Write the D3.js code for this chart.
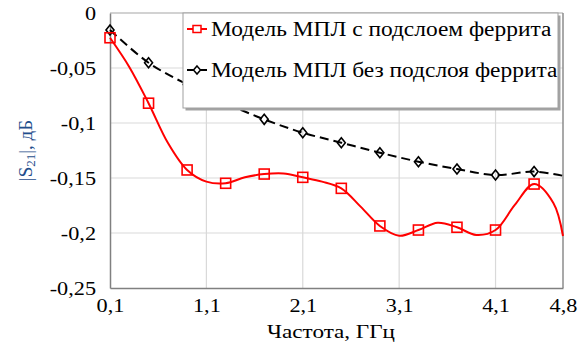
<!DOCTYPE html>
<html>
<head>
<meta charset="utf-8">
<script src="https://cdn.jsdelivr.net/npm/d3@7"></script>
<style>
  html, body { margin: 0; padding: 0; background: #fff; }
  svg { display: block; }
  text { font-family: "Liberation Serif", "Times New Roman", serif; fill: #000; }
</style>
</head>
<body>
<svg id="chart" width="587" height="347"></svg>
<script>
// S21 magnitude vs frequency, microstrip line with and without a ferrite sublayer
const freqFerrite = [0.1, 0.3, 0.5, 0.7, 0.9, 1.1, 1.3, 1.5, 1.7, 1.9, 2.1, 2.3, 2.5, 2.7, 2.9, 3.1, 3.3, 3.5, 3.7, 3.9, 4.1, 4.3, 4.5, 4.7, 4.8];
const s21Ferrite = [-0.0225, -0.049, -0.082, -0.118, -0.1427, -0.1533, -0.1548, -0.1494, -0.1464, -0.1458, -0.1494, -0.1533, -0.1594, -0.176, -0.1936, -0.2025, -0.1973, -0.1906, -0.1948, -0.2018, -0.1973, -0.1745, -0.1555, -0.1727, -0.2027];
const markerFerrite = [true, false, true, false, true, false, true, false, true, false, true, false, true, false, true, false, true, false, true, false, true, false, true, false, false];

const freqPlain = [0.1, 0.5, 0.9, 1.3, 1.7, 2.1, 2.5, 2.9, 3.3, 3.7, 4.1, 4.5, 4.8];
const s21Plain = [-0.0155, -0.0452, -0.065, -0.082, -0.0967, -0.1088, -0.1179, -0.127, -0.1352, -0.1418, -0.1473, -0.1442, -0.148];
const markerPlain = [true, true, true, true, true, true, true, true, true, true, true, true, false];

const xTicks = [0.1, 1.1, 2.1, 3.1, 4.1, 4.8];
const yTicks = [0, -0.05, -0.1, -0.15, -0.2, -0.25];
const seriesNames = ["Модель МПЛ с подслоем феррита", "Модель МПЛ без подслоя феррита"];

const svg = d3.select("#chart");
const plotL = 110, plotR = 563, plotT = 13, plotB = 288;
const widen = 1.17; // horizontal stretch applied to the serif labels

const x = d3.scaleLinear().domain([0.1, 4.8]).range([plotL, plotR]);
const y = d3.scaleLinear().domain([-0.25, 0]).range([plotB, plotT]);
const fmt = v => (v === 0 ? "0" : String(Math.round(v * 100) / 100).replace(".", ","));

// grid
const grid = svg.append("g");
grid.selectAll("line.h").data(yTicks.filter(t => t > -0.25 && t < 0)).join("line")
  .attr("x1", plotL).attr("x2", plotR)
  .attr("y1", d => y(d)).attr("y2", d => y(d))
  .attr("stroke", "#d9d9d9").attr("stroke-width", 1.2);
grid.selectAll("line.v").data(xTicks.filter(t => t > 0.1 && t < 4.8)).join("line")
  .attr("y1", plotT).attr("y2", plotB)
  .attr("x1", d => x(d)).attr("x2", d => x(d))
  .attr("stroke", "#d9d9d9").attr("stroke-width", 1.2);

// frame
svg.append("line").attr("x1", plotL).attr("x2", plotR).attr("y1", plotT).attr("y2", plotT)
  .attr("stroke", "#a6a6a6").attr("stroke-width", 1.2);
svg.append("line").attr("x1", plotR).attr("x2", plotR).attr("y1", plotT).attr("y2", plotB)
  .attr("stroke", "#8c8c8c").attr("stroke-width", 1.5);

// axes
const yAxis = svg.append("g").attr("transform", `translate(${plotL},0)`)
  .call(d3.axisLeft(y).tickValues(yTicks).tickFormat(fmt).tickSize(0).tickPadding(14));
const xAxis = svg.append("g").attr("transform", `translate(0,${plotB})`)
  .call(d3.axisBottom(x).tickValues(xTicks).tickFormat(fmt).tickSize(0).tickPadding(11));
[yAxis, xAxis].forEach(g => {
  g.select(".domain").attr("stroke", "#808080").attr("stroke-width", 1.5);
  g.selectAll("text").attr("font-family", "Liberation Serif").attr("font-size", 19)
    .attr("fill", "#000").classed("wide", true);
});

// axis titles
svg.append("text").attr("x", 331).attr("y", 338).attr("text-anchor", "middle")
  .attr("font-size", 19).attr("textLength", 128).attr("lengthAdjust", "spacingAndGlyphs")
  .text("Частота, ГГц");
const yt = svg.append("text").attr("transform", `translate(32,${(plotT + plotB) / 2}) rotate(-90)`)
  .attr("text-anchor", "middle").attr("font-size", 19).style("fill", "#1f4e8c");
yt.append("tspan").text("|S");
yt.append("tspan").attr("font-size", 13).attr("dy", 3).text("21");
yt.append("tspan").attr("dy", -3).text("|, дБ");

// series
const curve = d3.curveCatmullRom.alpha(0.5);
const line = d3.line().x(d => x(d.f)).y(d => y(d.v)).curve(curve);

const ferrite = freqFerrite.map((f, i) => ({ f, v: s21Ferrite[i], m: markerFerrite[i] }));
const plain = freqPlain.map((f, i) => ({ f, v: s21Plain[i], m: markerPlain[i] }));

const sq = 10, dm = 5;
const diamondPath = (cx, cy) => `M${cx},${cy - dm}L${cx + dm * 0.8},${cy}L${cx},${cy + dm}L${cx - dm * 0.8},${cy}Z`;

svg.append("path").datum(plain).attr("d", line)
  .attr("fill", "none").attr("stroke", "#000").attr("stroke-width", 2)
  .attr("stroke-dasharray", "9,5");
svg.append("g").selectAll("path").data(plain.filter(d => d.m)).join("path")
  .attr("d", d => diamondPath(x(d.f), y(d.v)))
  .attr("fill", "none").attr("stroke", "#000").attr("stroke-width", 1.6);

svg.append("path").datum(ferrite).attr("d", line)
  .attr("fill", "none").attr("stroke", "#ff0000").attr("stroke-width", 2);
svg.append("g").selectAll("rect").data(ferrite.filter(d => d.m)).join("rect")
  .attr("x", d => x(d.f) - sq / 2).attr("y", d => y(d.v) - sq / 2)
  .attr("width", sq).attr("height", sq)
  .attr("fill", "none").attr("stroke", "#ff0000").attr("stroke-width", 1.6);

// legend
const lg = { x0: 183, y0: 13, x1: 558, y1: 108 };
svg.append("rect").attr("x", lg.x0 + 2.5).attr("y", lg.y0 + 2.5)
  .attr("width", lg.x1 - lg.x0).attr("height", lg.y1 - lg.y0).attr("fill", "#a3a3a3");
svg.append("rect").attr("x", lg.x0).attr("y", lg.y0)
  .attr("width", lg.x1 - lg.x0).attr("height", lg.y1 - lg.y0)
  .attr("fill", "#fff").attr("stroke", "#a0a0a0").attr("stroke-width", 1);

const rows = [
  { name: seriesNames[0], color: "#ff0000", cy: 29, kind: "square" },
  { name: seriesNames[1], color: "#000", cy: 70, kind: "diamond" }
];
rows.forEach(r => {
  svg.append("line").attr("x1", 187).attr("x2", 207).attr("y1", r.cy).attr("y2", r.cy)
    .attr("stroke", r.color).attr("stroke-width", 2);
  if (r.kind === "square") {
    svg.append("rect").attr("x", 193).attr("y", r.cy - 3.5).attr("width", 8).attr("height", 7)
      .attr("fill", "#fff").attr("stroke", r.color).attr("stroke-width", 1.5);
  } else {
    svg.append("path").attr("d", `M197,${r.cy - 4}L200.5,${r.cy}L197,${r.cy + 4}L193.5,${r.cy}Z`)
      .attr("fill", "#fff").attr("stroke", r.color).attr("stroke-width", 1.5);
  }
  svg.append("text").attr("x", 211).attr("y", r.cy + 7).attr("font-size", 20)
    .classed("wide", true).text(r.name);
});

// widen the serif labels to the proportions of the layout
svg.selectAll("text.wide").each(function () {
  const len = this.getComputedTextLength();
  this.setAttribute("textLength", (len * widen).toFixed(1));
  this.setAttribute("lengthAdjust", "spacingAndGlyphs");
});
</script>
</body>
</html>
